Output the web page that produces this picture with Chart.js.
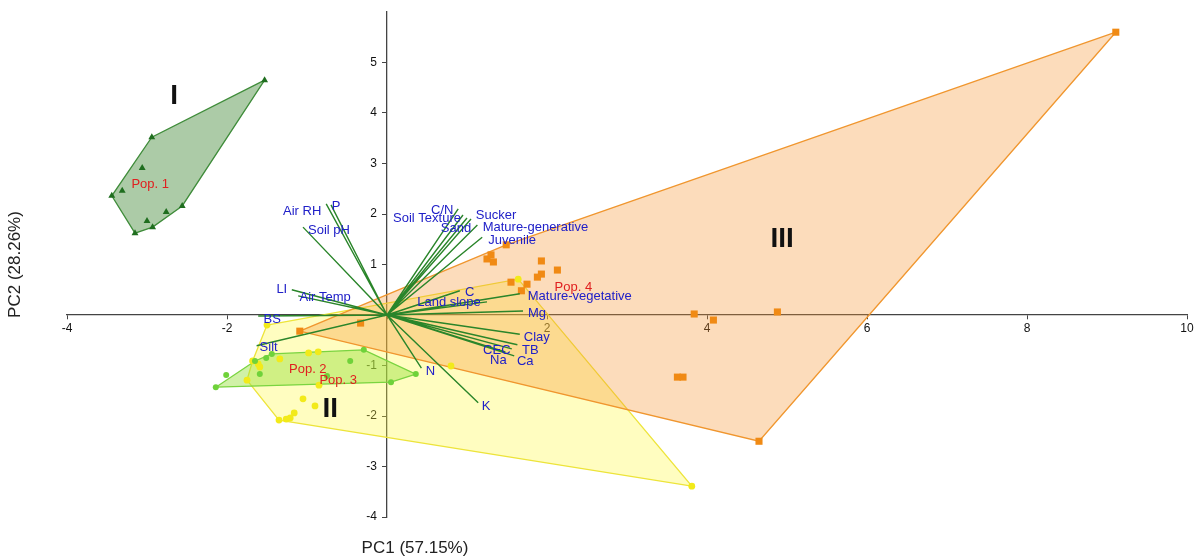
<!DOCTYPE html>
<html>
<head>
<meta charset="utf-8">
<script src="https://cdn.jsdelivr.net/npm/chart.js@4.4.1/dist/chart.umd.min.js"></script>
<style>
  html, body { margin: 0; padding: 0; background: #fff; }
  #wrap { width: 1202px; height: 558px; position: relative; }
</style>
</head>
<body>
<div id="wrap"><canvas id="pca-chart"></canvas></div>
<script>
// PC scores (PC1, PC2), one pair of arrays per population
const pop1X = [-1.53, -2.94, -3.06, -3.44, -3.31, -3.15, -3.00, -2.93, -2.76, -2.56];
const pop1Y = [4.65, 3.52, 2.91, 2.36, 2.46, 1.62, 1.86, 1.74, 2.04, 2.16];
const pop1Hull = [0, 1, 3, 5, 7, 9];

const pop2X = [-2.14, -2.01, -1.65, -1.59, -1.51, -1.44, -0.75, -0.46, -0.29, 0.05, 0.36];
const pop2Y = [-1.43, -1.19, -0.91, -1.17, -0.85, -0.77, -1.21, -0.91, -0.69, -1.33, -1.17];
const pop2Hull = [0, 2, 5, 8, 10, 9];

const pop3X = [-1.50, -1.68, -1.61, -1.59, -1.34, -0.98, -0.86, -1.75, -0.85, -1.05, -0.90, -1.16, -1.35, -1.26, -1.21, 0.80, 1.64, 3.81];
const pop3Y = [-0.20, -0.91, -0.97, -1.03, -0.87, -0.75, -0.73, -1.29, -1.39, -1.66, -1.80, -1.94, -2.08, -2.06, -2.04, -1.01, 0.71, -3.39];
const pop3Hull = [0, 1, 7, 12, 17, 16];

const pop4X = [9.11, 4.65, -1.09, -0.33, 1.49, 1.25, 1.30, 1.33, 1.93, 2.13, 1.93, 1.88, 1.55, 1.75, 1.68, 3.84, 4.08, 4.88, 3.63, 3.70];
const pop4Y = [5.60, -2.50, -0.32, -0.16, 1.39, 1.11, 1.19, 1.05, 1.07, 0.89, 0.81, 0.75, 0.65, 0.61, 0.48, 0.02, -0.10, 0.06, -1.23, -1.23];
const pop4Hull = [0, 1, 2, 4];

// variable loadings (arrow tips)
const loadingNames = ['Air RH', 'P', 'Soil pH', 'LI', 'Air Temp', 'BS', 'Silt', 'C/N', 'Soil Texture', 'Sand', 'Sucker',
  'Mature-generative', 'Juvenile', 'C', 'Land slope', 'Mature-vegetative', 'Mg', 'Clay', 'TB', 'CEC', 'Na', 'Ca', 'N', 'K'];
const loadingX = [-0.76, -0.70, -1.05, -1.19, -1.11, -1.61, -1.63, 0.89, 0.95, 1.00, 1.05,
  1.13, 1.19, 0.91, 1.25, 1.66, 1.70, 1.66, 1.63, 1.56, 1.48, 1.59, 0.43, 1.14];
const loadingY = [2.20, 2.18, 1.74, 0.50, 0.38, -0.02, -0.61, 2.10, 1.98, 1.92, 1.90,
  1.78, 1.54, 0.48, 0.26, 0.42, 0.08, -0.38, -0.59, -0.67, -0.73, -0.81, -1.05, -1.74];

const xTickValues = [-4, -2, 0, 2, 4, 6, 8, 10];
const yTickValues = [-4, -3, -2, -1, 0, 1, 2, 3, 4, 5];

// label placement (pixel offset from arrow tip), kept apart from the data
const loadingLabelOffset = [[-24, 8], [5, 2], [26, 3], [-10, 0], [27, 2], [14, 3], [12, 2], [-16, 1], [-36, 3], [-11, 10], [25, -4],
  [58, 2], [30, 3], [10, 2], [-38, 1], [60, 3], [14, 2], [17, 3], [13, 6], [-15, 2], [-7, 9], [11, 6], [9, 3], [8, 4]];
const groupLabels = [
  {text: 'Pop. 1', x: -2.96, y: 2.59}, {text: 'Pop. 2', x: -0.99, y: -1.07},
  {text: 'Pop. 3', x: -0.61, y: -1.29}, {text: 'Pop. 4', x: 2.33, y: 0.55}
];
const clusterLabels = [
  {text: 'I', x: -2.66, y: 4.34}, {text: 'II', x: -0.71, y: -1.86}, {text: 'III', x: 4.94, y: 1.50}
];

const FONT = '"Liberation Sans", Arial, sans-serif';

function points(xs, ys) {
  return xs.map((v, i) => ({x: v, y: ys[i]}));
}
function hull(xs, ys, idx) {
  const pts = idx.map(i => ({x: xs[i], y: ys[i]}));
  pts.push(pts[0]);
  return pts;
}
function arrows() {
  const pts = [];
  loadingX.forEach((v, i) => {
    pts.push({x: 0, y: 0});
    pts.push({x: v, y: loadingY[i]});
  });
  pts.push({x: 0, y: 0});
  return pts;
}
function hullSet(data, fillCol, lineCol, order) {
  return {
    type: 'line', data, fill: 'shape', backgroundColor: fillCol, borderColor: lineCol,
    borderWidth: 1.3, pointRadius: 0, tension: 0, order
  };
}
function pointSet(data, style, col, r, order) {
  return {
    type: 'scatter', data, pointStyle: style, pointRadius: r, backgroundColor: col,
    borderColor: col, borderWidth: 0, order
  };
}

const textPlugin = {
  id: 'biplotText',
  afterDatasetsDraw(chart) {
    const {ctx, chartArea} = chart;
    const sx = chart.scales.x, sy = chart.scales.y;
    ctx.save();
    ctx.textAlign = 'center';
    ctx.textBaseline = 'middle';

    ctx.font = '13px ' + FONT;
    ctx.fillStyle = '#2020c8';
    loadingNames.forEach((name, i) => {
      const off = loadingLabelOffset[i];
      ctx.fillText(name, sx.getPixelForValue(loadingX[i]) + off[0], sy.getPixelForValue(loadingY[i]) + off[1]);
    });

    ctx.fillStyle = '#e02020';
    groupLabels.forEach(l => ctx.fillText(l.text, sx.getPixelForValue(l.x), sy.getPixelForValue(l.y)));

    ctx.font = 'bold 28px ' + FONT;
    ctx.fillStyle = '#111';
    clusterLabels.forEach(l => ctx.fillText(l.text, sx.getPixelForValue(l.x), sy.getPixelForValue(l.y)));

    // axis titles
    ctx.font = '17px ' + FONT;
    ctx.fillStyle = '#222';
    ctx.fillText('PC1 (57.15%)', sx.getPixelForValue(0) + 28, chartArea.bottom + 31);
    ctx.translate(chartArea.left - 52, (chartArea.top + chartArea.bottom) / 2);
    ctx.rotate(-Math.PI / 2);
    ctx.fillText('PC2 (28.26%)', 0, 0);
    ctx.restore();
  }
};

const axisCommon = {
  type: 'linear',
  grid: {display: true, drawOnChartArea: false, drawTicks: true, tickLength: 4, color: '#444'},
  border: {display: true, color: '#444', width: 1.3},
  ticks: {color: '#111', font: {size: 12, family: FONT}, padding: 2}
};

new Chart(
  document.getElementById('pca-chart'),
  {
    type: 'scatter',
    data: {
      datasets: [
        {
          type: 'line', data: arrows(), borderColor: '#2a852a', borderWidth: 1.4,
          pointRadius: 0, fill: false, tension: 0, order: 1
        },
        pointSet(points(pop1X, pop1Y), 'triangle', '#1f6e1f', 4, 2),
        pointSet(points(pop2X, pop2Y), 'circle', '#6fd23a', 3, 2),
        pointSet(points(pop3X, pop3Y), 'circle', '#f2ea1a', 3.4, 3),
        pointSet(points(pop4X, pop4Y), 'rect', '#f08a14', 5, 2),
        hullSet(hull(pop2X, pop2Y, pop2Hull), 'rgba(150,225,60,0.45)', '#7ad440', 4),
        hullSet(hull(pop4X, pop4Y, pop4Hull), 'rgba(245,150,50,0.33)', '#f0962e', 5),
        hullSet(hull(pop3X, pop3Y, pop3Hull), 'rgba(255,250,60,0.32)', '#ede43a', 6),
        hullSet(hull(pop1X, pop1Y, pop1Hull), 'rgba(70,140,60,0.45)', '#3f8c3a', 6)
      ]
    },
    options: {
      responsive: true,
      maintainAspectRatio: false,
      animation: false,
      layout: {padding: {left: 67, right: 15, top: 12, bottom: 41}},
      scales: {
        x: Object.assign({}, axisCommon, {
          position: {y: 0}, min: -4, max: 10,
          afterBuildTicks: s => { s.ticks = xTickValues.map(v => ({value: v})); },
          afterFit: s => { s.height = 0; },
          ticks: Object.assign({}, axisCommon.ticks, {callback: v => (v === 0 ? '' : v)})
        }),
        y: Object.assign({}, axisCommon, {
          position: {x: 0}, min: -4, max: 6,
          afterBuildTicks: s => { s.ticks = yTickValues.map(v => ({value: v})); },
          afterFit: s => { s.width = 0; },
          // label sits right-aligned on the axis line, pad it off with trailing spaces
          ticks: Object.assign({}, axisCommon.ticks, {callback: v => (v === 0 ? '' : v + '   ')})
        })
      },
      plugins: {
        legend: {display: false},
        tooltip: {enabled: false}
      }
    },
    plugins: [textPlugin]
  }
);
</script>
</body>
</html>
